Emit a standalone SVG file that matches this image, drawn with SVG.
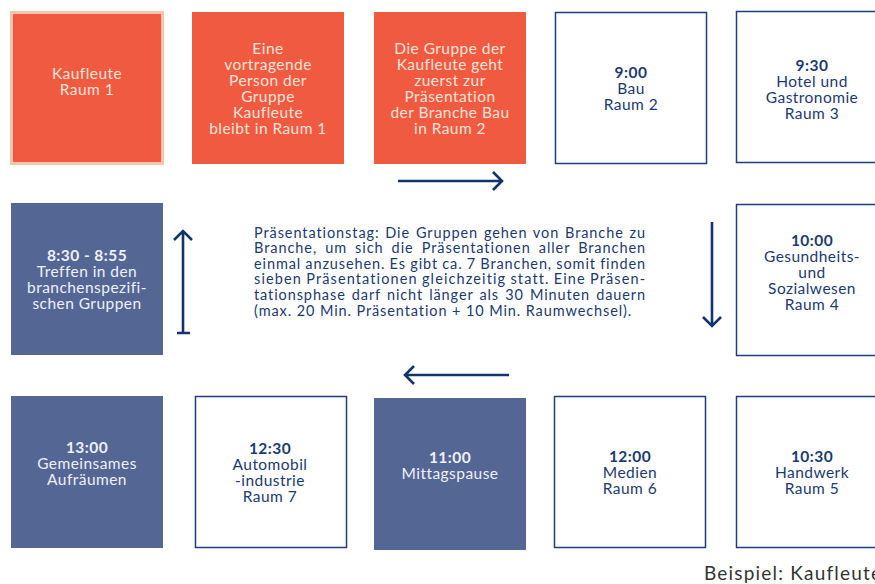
<svg xmlns="http://www.w3.org/2000/svg" width="875" height="584" viewBox="0 0 875 584">
<style>
text{font-family:Lato,"Open Sans","Liberation Sans",sans-serif;font-size:15.5px;letter-spacing:0.45px;text-anchor:middle}
.org{fill:#f05a40}
.blu{fill:#536694}
.wht{fill:#ffffff;stroke:#1f3f78;stroke-width:1.5}
.to{fill:#fde3d9}
.tb{fill:#eef1f8}
.tn{fill:#1b3a6f}
.b{font-weight:bold}
.par{font-size:14.5px;letter-spacing:0.9px;text-anchor:start;fill:#1b3a6f}
.arr{fill:none;stroke:#12346c;stroke-width:2.6;stroke-linecap:butt;stroke-linejoin:miter}
</style>
<rect width="875" height="584" fill="#ffffff"/>
<g id="n1"><rect x="11.5" y="12.5" width="151" height="151" fill="#f05a40" stroke="#f8c3ab" stroke-width="3"/><text class="to" x="87" y="79">Kaufleute</text><text class="to" x="87" y="95">Raum 1</text></g>
<g id="n2"><rect class="org" x="192" y="12" width="152" height="152"/><text class="to"><tspan x="268" y="54">Eine</tspan><tspan x="268" y="70">vortragende</tspan><tspan x="268" y="86">Person der</tspan><tspan x="268" y="102">Gruppe</tspan><tspan x="268" y="118">Kaufleute</tspan><tspan x="268" y="134">bleibt in Raum 1</tspan></text></g>
<g id="n3"><rect class="org" x="374" y="12" width="152" height="152"/><text class="to"><tspan x="450" y="54">Die Gruppe der</tspan><tspan x="450" y="70">Kaufleute geht</tspan><tspan x="450" y="86">zuerst zur</tspan><tspan x="450" y="102">Präsentation</tspan><tspan x="450" y="118">der Branche Bau</tspan><tspan x="450" y="134">in Raum 2</tspan></text></g>
<g id="n4"><rect class="wht" x="555.5" y="12.5" width="151" height="151"/><text class="tn"><tspan class="b" x="631" y="78">9:00</tspan><tspan x="631" y="94">Bau</tspan><tspan x="631" y="110">Raum 2</tspan></text></g>
<g id="n5"><rect class="wht" x="736.5" y="11.5" width="151" height="151"/><text class="tn"><tspan class="b" x="812" y="71">9:30</tspan><tspan x="812" y="87">Hotel und</tspan><tspan x="812" y="103">Gastronomie</tspan><tspan x="812" y="119">Raum 3</tspan></text></g>
<g id="n6"><rect class="blu" x="11" y="203" width="152" height="152"/><text class="tb"><tspan class="b" x="87" y="261">8:30 - 8:55</tspan><tspan x="87" y="277">Treffen in den</tspan><tspan x="87" y="293">branchenspezifi-</tspan><tspan x="87" y="309">schen Gruppen</tspan></text></g>
<g id="n7"><rect class="wht" x="736.5" y="204.5" width="151" height="151"/><text class="tn"><tspan class="b" x="812" y="246">10:00</tspan><tspan x="812" y="262">Gesundheits-</tspan><tspan x="812" y="278">und</tspan><tspan x="812" y="294">Sozialwesen</tspan><tspan x="812" y="310">Raum 4</tspan></text></g>
<g id="n8"><rect class="blu" x="11" y="396" width="152" height="152"/><text class="tb"><tspan class="b" x="87" y="453">13:00</tspan><tspan x="87" y="469">Gemeinsames</tspan><tspan x="87" y="485">Aufräumen</tspan></text></g>
<g id="n9"><rect class="wht" x="195.5" y="396.5" width="151" height="151"/><text class="tn"><tspan class="b" x="270" y="454">12:30</tspan><tspan x="270" y="470">Automobil</tspan><tspan x="270" y="486">-industrie</tspan><tspan x="270" y="502">Raum 7</tspan></text></g>
<g id="n10"><rect class="blu" x="374" y="398" width="152" height="152"/><text class="tb"><tspan class="b" x="450" y="463">11:00</tspan><tspan x="450" y="479">Mittagspause</tspan></text></g>
<g id="n11"><rect class="wht" x="554.5" y="396.5" width="151" height="151"/><text class="tn"><tspan class="b" x="630" y="462">12:00</tspan><tspan x="630" y="478">Medien</tspan><tspan x="630" y="494">Raum 6</tspan></text></g>
<g id="n12"><rect class="wht" x="736.5" y="396.5" width="151" height="151"/><text class="tn"><tspan class="b" x="812" y="462">10:30</tspan><tspan x="812" y="478">Handwerk</tspan><tspan x="812" y="494">Raum 5</tspan></text></g>
<g id="desc">
<text class="par" x="254" y="237.5" style="word-spacing:1.2px" textLength="392" lengthAdjust="spacing">Präsentationstag: Die Gruppen gehen von Branche zu</text>
<text class="par" x="254" y="253.1" style="word-spacing:3.4px" textLength="392" lengthAdjust="spacing">Branche, um sich die Präsentationen aller Branchen</text>
<text class="par" x="254" y="268.7" style="word-spacing:-0.3px" textLength="392" lengthAdjust="spacing">einmal anzusehen. Es gibt ca. 7 Branchen, somit finden</text>
<text class="par" x="254" y="284.3" style="word-spacing:-0.6px" textLength="392" lengthAdjust="spacing">sieben Präsentationen gleichzeitig statt. Eine Präsen-</text>
<text class="par" x="254" y="299.9" style="word-spacing:1.5px" textLength="392" lengthAdjust="spacing">tationsphase darf nicht länger als 30 Minuten dauern</text>
<text class="par" x="254" y="315.5">(max. 20 Min. Präsentation + 10 Min. Raumwechsel).</text>
</g>
<g id="connectors">
<path class="arr" d="M398 181H502M493 172L502 181L493 190"/>
<path class="arr" d="M712 222V326M703 317L712 326L721 317"/>
<path class="arr" d="M509 375H405M414 366L405 375L414 384"/>
<path class="arr" d="M183 333V231M174 240L183 231L192 240M177 333H190"/>
</g>
<text x="704" y="580" style="text-anchor:start;font-size:19px;letter-spacing:1.2px;fill:#333333">Beispiel: Kaufleute</text>
</svg>
